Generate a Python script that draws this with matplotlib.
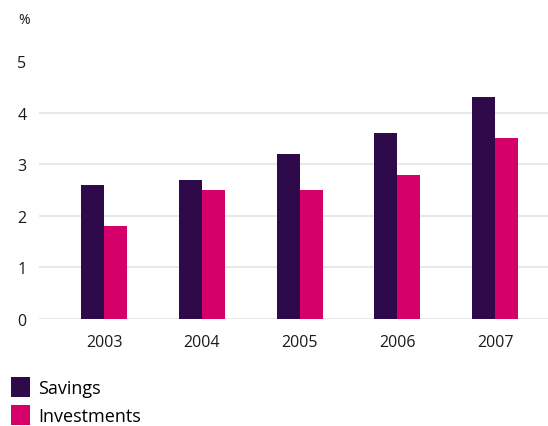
import matplotlib
matplotlib.use("Agg")
import matplotlib.pyplot as plt
import numpy as np

years = ["2003", "2004", "2005", "2006", "2007"]
savings = [2.6, 2.7, 3.2, 3.6, 4.3]
investments = [1.8, 2.5, 2.5, 2.8, 3.5]
yticks = [0, 1, 2, 3, 4, 5]

plt.rcParams['font.family'] = ['Open Sans', 'DejaVu Sans']

fig = plt.figure(figsize=(5.48, 4.27), dpi=100)
ax = fig.add_axes([39/548, 107/427, 509/548, 258/427])

x = np.arange(len(years))
w = 0.235
c_sav = "#2E0A4A"
c_inv = "#D6006A"
b1 = ax.bar(x - w/2, savings, w, color=c_sav, label="Savings", zorder=3)
b2 = ax.bar(x + w/2, investments, w, color=c_inv, label="Investments", zorder=3)

ax.set_xlim(-0.665, 4.54)
ax.set_ylim(0, 5)
ax.set_yticks(yticks)
ax.set_yticklabels([str(t) for t in yticks])
ax.set_xticks(x)
ax.set_xticklabels(years)
for s in ax.spines.values():
    s.set_visible(False)
ax.tick_params(axis='both', length=0, labelsize=11.5, colors="#1a1a1a")
ax.tick_params(axis='y', pad=9)
ax.tick_params(axis='x', pad=11)
ax.grid(axis='y', color="#E8E8E8", linewidth=1.5, zorder=0)
ax.yaxis.get_gridlines()[-1].set_visible(False)
ax.set_axisbelow(True)

fig.text(24/548, 1 - 21/427, "%", ha='center', va='center', fontsize=10, color="#1a1a1a")

fig.legend(handles=[b1, b2], loc='upper left', bbox_to_anchor=(11/548, 1 - 378/427),
           frameon=False, fontsize=13, handlelength=1.06, handleheight=1.3,
           handletextpad=0.45, labelspacing=0.45, borderaxespad=0, borderpad=0)

fig.savefig("out.png", dpi=100)
